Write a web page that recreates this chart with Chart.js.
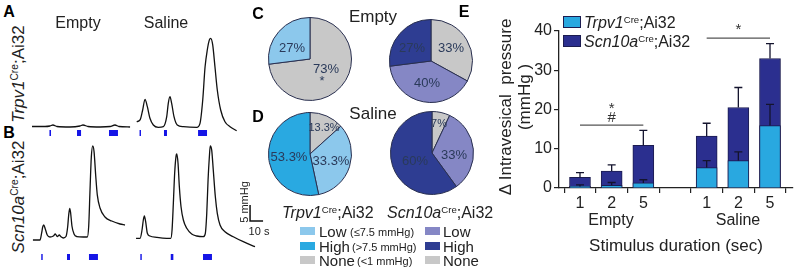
<!DOCTYPE html>
<html>
<head>
<meta charset="utf-8">
<script src="https://cdn.jsdelivr.net/npm/chart.js@4.4.1/dist/chart.umd.min.js"></script>
<style>
  body { margin: 0; background: #fff; }
  #fig { position: relative; width: 797px; height: 272px; overflow: hidden;
         font-family: 'Liberation Sans', Arial, sans-serif; color: #222; }
  canvas { position: absolute; }
  .t { position: absolute; white-space: nowrap; transform: translate(-50%, -50%); line-height: 1; }
  .l { position: absolute; white-space: nowrap; transform: translateY(-50%); line-height: 1; }
  .rot { transform: translate(-50%, -50%) rotate(-90deg); }
  .letter { font-weight: bold; font-size: 16px; color: #000; }
  sup { font-size: 0.6em; vertical-align: 0; position: relative; top: -0.55em; }
  .pct { font-size: 13px; color: #2a3a5a; }
  .sw { position: absolute; width: 15px; height: 8px; transform: translateY(-50%); }
  .small { font-size: 11px; }
</style>
</head>
<body>
<div id="fig">
  <canvas id="rowA" width="240" height="110" style="left:28px;top:30px"></canvas>
  <canvas id="rowB" width="240" height="122" style="left:28px;top:140px"></canvas>
  <canvas id="pieC1" width="84" height="84" style="left:268px;top:17px"></canvas>
  <canvas id="pieC2" width="84" height="84" style="left:389px;top:19px"></canvas>
  <canvas id="pieD1" width="84" height="84" style="left:268px;top:112px"></canvas>
  <canvas id="pieD2" width="84" height="84" style="left:390px;top:111px"></canvas>
  <canvas id="barE" width="337" height="272" style="left:460px;top:0px"></canvas>

  <!-- panel A / B text -->
  <div class="t letter" style="left:9px;top:12px">A</div>
  <div class="t letter" style="left:9px;top:133px">B</div>
  <div class="t" style="left:78px;top:23px;font-size:16px">Empty</div>
  <div class="t" style="left:166px;top:23px;font-size:16px">Saline</div>
  <div class="t rot" style="left:18px;top:74px;font-size:17px"><i>Trpv1</i><sup>Cre</sup>;Ai32</div>
  <div class="t rot" style="left:18px;top:197px;font-size:17px"><i>Scn10a</i><sup>Cre</sup>;Ai32</div>
  <div class="t rot small" style="left:244px;top:202px">5 mmHg</div>
  <div class="t small" style="left:259px;top:231px">10 s</div>

  <!-- panel C / D text -->
  <div class="t letter" style="left:258px;top:14px">C</div>
  <div class="t letter" style="left:258px;top:117px">D</div>
  <div class="t" style="left:373px;top:16px;font-size:17px">Empty</div>
  <div class="t" style="left:373px;top:113px;font-size:17px">Saline</div>
  <div class="t pct" style="left:292px;top:47px">27%</div>
  <div class="t pct" style="left:326px;top:68px">73%</div>
  <div class="t pct" style="left:322px;top:80px">*</div>
  <div class="t pct" style="left:412px;top:47px">27%</div>
  <div class="t pct" style="left:451px;top:47px">33%</div>
  <div class="t pct" style="left:427px;top:82px">40%</div>
  <div class="t pct" style="left:324px;top:127px;font-size:11px">13.3%</div>
  <div class="t pct" style="left:289px;top:156px">53.3%</div>
  <div class="t pct" style="left:331px;top:160px">33.3%</div>
  <div class="t pct" style="left:439px;top:123px;font-size:11px">7%</div>
  <div class="t pct" style="left:454px;top:154px">33%</div>
  <div class="t pct" style="left:415px;top:160px">60%</div>

  <div class="l" style="left:282px;top:213px;font-size:16px"><i>Trpv1</i><sup>Cre</sup>;Ai32</div>
  <div class="l" style="left:387px;top:213px;font-size:16px"><i>Scn10a</i><sup>Cre</sup>;Ai32</div>
  <div class="sw" style="left:300px;top:231px;background:#8cc8ec"></div>
  <div class="sw" style="left:300px;top:246px;background:#29a9e1"></div>
  <div class="sw" style="left:300px;top:260px;background:#c8c8c8"></div>
  <div class="l" style="left:319px;top:231px;font-size:15px">Low</div>
  <div class="l" style="left:319px;top:246px;font-size:15px">High</div>
  <div class="l" style="left:319px;top:260px;font-size:15px">None</div>
  <div class="l small" style="left:350px;top:232px">(≤7.5 mmHg)</div>
  <div class="l small" style="left:352px;top:247px">(&gt;7.5 mmHg)</div>
  <div class="l small" style="left:357px;top:261px">(&lt;1 mmHg)</div>
  <div class="sw" style="left:425px;top:231px;background:#8587c5"></div>
  <div class="sw" style="left:425px;top:246px;background:#2e3d92"></div>
  <div class="sw" style="left:425px;top:260px;background:#c8c8c8"></div>
  <div class="l" style="left:443px;top:231px;font-size:15px">Low</div>
  <div class="l" style="left:443px;top:246px;font-size:15px">High</div>
  <div class="l" style="left:443px;top:260px;font-size:15px">None</div>

  <!-- panel E text -->
  <div class="t letter" style="left:464px;top:12px">E</div>
  <div class="sw" style="left:563px;top:22px;width:16px;height:10px;background:#29a8e0;border:1px solid #1c1c50"></div>
  <div class="sw" style="left:563px;top:41px;width:16px;height:10px;background:#2b2f8f;border:1px solid #1c1c50"></div>
  <div class="l" style="left:584px;top:23px;font-size:16px"><i>Trpv1</i><sup>Cre</sup>;Ai32</div>
  <div class="l" style="left:584px;top:42px;font-size:16px"><i>Scn10a</i><sup>Cre</sup>;Ai32</div>
  <div class="t rot" style="left:505px;top:107px;font-size:17px">Δ Intravesical&nbsp;&nbsp;pressure</div>
  <div class="t rot" style="left:524px;top:97px;font-size:17px">(mmHg )</div>
  <div class="t" style="left:611px;top:220px;font-size:16px">Empty</div>
  <div class="t" style="left:738px;top:220px;font-size:16px">Saline</div>
  <div class="t" style="left:676px;top:245px;font-size:17px">Stimulus duration (sec)</div>
</div>

<script>
// traces: time (s), pressure change (mmHg)
const traceEmptyTrpv1 = [[3.1,-0.16],[13.1,-0.16],[16.9,0],[19.2,0.31],[22.3,-0.16],[32.3,-0.31],[40,0],[42.3,0.31],
  [46.2,-0.16],[55.4,-0.31],[63.1,-0.16],[66.9,0.31],[70,-0.16],[78.5,-0.31]];
const traceSalineTrpv1 = [[83.6,1.34],[86.2,1.88],[88.2,5.0],[90.0,8.34],[91.8,6.03],[93.8,2.41],[96.4,0.31],[100.2,-0.41],
  [104.1,-0.22],[106.7,2.91],[107.9,7.09],[109.2,9.16],[110.5,7.09],[112.3,2.91],[114.8,0.31],[119.5,-0.22],[129.8,-0.41],
  [132.3,0.84],[134.4,8.13],[136.2,18.5],[137.9,23.75],[139.5,26.9],[140.5,27.4],[142.1,25.3],[143.8,18.5],[145.6,11.25],
  [148.2,5.0],[151.5,1.34],[155.4,-0.22],[160.5,-1.47]];
const traceEmptyScn10a = [[3.8,0],[9.2,0],[10.5,2.19],[11.3,4.06],[12.1,4.69],[13.3,3.44],[14.8,1.56],[16.9,0.94],[19.5,1.25],
  [21.0,1.88],[22.5,1.09],[24.1,1.56],[25.2,1.09],[27.2,0.63],[29.2,1.09],[30.5,4.06],[31.3,7.81],[32.1,9.91],[32.8,8.44],
  [33.8,4.38],[35.4,1.88],[37.5,1.09],[42.5,0.94],[45.6,0.94],[46.7,4.38],[47.7,15.6],[48.7,25.9],[49.8,29.4],[50.8,27.6],
  [52.1,20.0],[53.3,14.1],[55.4,10.0],[59.2,7.19],[64.4,5.94],[70.8,5.0],[74.6,4.69]];
const traceSalineScn10a = [[83.1,0.53],[86.2,0.53],[87.7,3.13],[88.7,6.25],[89.5,7.5],[90.5,5.72],[91.8,2.09],[93.8,1.25],
  [99.0,0.84],[106.7,0.53],[109.8,0.53],[110.8,3.13],[111.8,11.5],[112.8,20.8],[113.8,26.0],[114.4,26.9],[115.4,24.0],
  [116.4,16.7],[117.7,10.4],[119.5,6.25],[122.1,3.66],[125.9,1.88],[129.8,1.25],[134.8,1.03],[136.4,2.09],[137.5,8.34],
  [138.5,18.75],[139.5,26.0],[140.2,29.4],[141.3,28.1],[142.5,21.9],[144.1,13.5],[145.6,8.34],[147.7,4.69],[151.5,2.59],
  [157.9,1.03],[165.6,-0.53],[174.6,-2.09]];
// light stimulation windows (start, end in s)
const stimRowA = [[16.5,17.7],[37.7,40.8],[62.3,69.2],[85.8,86.9],[104.6,106.9],[130.8,137.7]];
const stimRowB = [[10.2,11.3],[30.0,32.3],[46.9,53.8],[86.4,87.5],[109.8,111.8],[134.6,141.5]];
const scaleBarTime = 10, scaleBarPressure = 5;

// pies
const pieLabels = ['None', 'Low', 'High'];
const trpv1Empty = [73, 27, 0];
const scn10aEmpty = [33, 40, 27];
const trpv1Saline = [13.3, 33.3, 53.3];
const scn10aSaline = [7, 33, 60];

// bars
const durations = ['1', '2', '5', '', '1', '2', '5'];
const trpv1Mean = [0.4, 0.7, 1.3, null, 5.2, 7.0, 15.9];
const trpv1Sem = [0.4, 0.7, 0.8, null, 1.8, 2.2, 5.4];
const scn10aMean = [2.7, 4.3, 10.9, null, 13.2, 20.5, 33.0];
const scn10aSem = [1.2, 1.6, 3.8, null, 3.3, 5.1, 3.8];
const brackets = [{ from: 0, to: 2, level: 16, marks: ['#', '*'] }, { from: 4, to: 6, level: 38.2, marks: ['*'] }];

Chart.defaults.font.family = "'Liberation Sans', Arial, sans-serif";
Chart.defaults.animation = false;
Chart.defaults.responsive = false;
Chart.defaults.plugins.legend.display = false;
Chart.defaults.plugins.tooltip.enabled = false;

function toXY(arr) { return arr.map(p => ({ x: p[0], y: p[1] })); }
function stimPoints(list, level) {
  const pts = [];
  list.forEach(s => { pts.push({ x: s[0], y: level }, { x: s[1], y: level }, { x: s[1], y: null }); });
  return pts;
}
function traceSet(arr) {
  return { data: toXY(arr), borderColor: '#111', borderWidth: 1.3, pointRadius: 0, cubicInterpolationMode: 'monotone' };
}
function stimSet(list, level) {
  return { data: stimPoints(list, level), borderColor: '#1515e6', borderWidth: 6, borderCapStyle: 'butt',
    pointRadius: 0, spanGaps: false };
}

const scaleBar = {
  id: 'scaleBar',
  afterDraw(chart) {
    const x = chart.scales.x, y = chart.scales.y, ctx = chart.ctx;
    const t0 = 170.8, p0 = 5.94;
    ctx.save();
    ctx.strokeStyle = '#111';
    ctx.lineWidth = 1.5;
    ctx.beginPath();
    ctx.moveTo(x.getPixelForValue(t0), y.getPixelForValue(p0 + scaleBarPressure));
    ctx.lineTo(x.getPixelForValue(t0), y.getPixelForValue(p0));
    ctx.lineTo(x.getPixelForValue(t0 + scaleBarTime), y.getPixelForValue(p0));
    ctx.stroke();
    ctx.restore();
  }
};

function traceChart(id, sets, yMin, yMax, plugins) {
  return new Chart(document.getElementById(id), {
    type: 'line',
    data: { datasets: sets },
    options: {
      layout: { padding: 0 },
      scales: {
        x: { type: 'linear', display: false, min: 0, max: 184.6 },
        y: { display: false, min: yMin, max: yMax }
      }
    },
    plugins: plugins || []
  });
}

traceChart('rowA', [traceSet(traceEmptyTrpv1), traceSet(traceSalineTrpv1), stimSet(stimRowA, -2.19)], -4.375, 30);
traceChart('rowB', [traceSet(traceEmptyScn10a), traceSet(traceSalineScn10a), stimSet(stimRowB, -5.31)], -6.875, 31.25, [scaleBar]);

function pieChart(id, values, colors) {
  return new Chart(document.getElementById(id), {
    type: 'pie',
    data: { labels: pieLabels, datasets: [{ data: values, backgroundColor: colors, borderColor: '#2a3050', borderWidth: 1 }] },
    options: { layout: { padding: 0 } }
  });
}
const trpv1Colors = ['#c8c8c8', '#8cc8ec', '#29a9e1'];
const scn10aColors = ['#c8c8c8', '#8587c5', '#2e3d92'];
pieChart('pieC1', trpv1Empty, trpv1Colors);
pieChart('pieC2', scn10aEmpty, scn10aColors);
pieChart('pieD1', trpv1Saline, trpv1Colors);
pieChart('pieD2', scn10aSaline, scn10aColors);

function barPoints(vals) { return vals.map((v, i) => ({ x: i, y: v })); }

const errorBars = {
  id: 'errorBars',
  afterDatasetsDraw(chart) {
    const x = chart.scales.x, y = chart.scales.y, ctx = chart.ctx;
    const sets = [[trpv1Mean, trpv1Sem], [scn10aMean, scn10aSem]];
    ctx.save();
    ctx.strokeStyle = '#14142e';
    ctx.lineWidth = 1.3;
    sets.forEach(([m, e]) => {
      m.forEach((v, i) => {
        if (v == null) return;
        const px = x.getPixelForValue(i);
        const top = y.getPixelForValue(v + e[i]);
        ctx.beginPath();
        ctx.moveTo(px, y.getPixelForValue(v));
        ctx.lineTo(px, top);
        ctx.moveTo(px - 4, top);
        ctx.lineTo(px + 4, top);
        ctx.stroke();
      });
    });
    ctx.strokeStyle = '#555';
    ctx.fillStyle = '#333';
    ctx.font = "15px 'Liberation Sans', Arial, sans-serif";
    ctx.textAlign = 'center';
    ctx.textBaseline = 'middle';
    brackets.forEach(b => {
      const py = y.getPixelForValue(b.level);
      const x1 = x.getPixelForValue(b.from), x2 = x.getPixelForValue(b.to);
      ctx.beginPath();
      ctx.moveTo(x1, py);
      ctx.lineTo(x2, py);
      ctx.stroke();
      b.marks.forEach((mk, k) => {
        ctx.fillText(mk, (x1 + x2) / 2, py - 5 - (mk === '*' ? 3 : 2) - k * 8);
      });
    });
    ctx.restore();
  }
};

new Chart(document.getElementById('barE'), {
  type: 'bar',
  data: {
    datasets: [
      { label: 'Trpv1Cre;Ai32', data: barPoints(trpv1Mean), backgroundColor: '#29a8e0', borderColor: '#1c1c50',
        borderWidth: 1, barThickness: 21, grouped: false },
      { label: 'Scn10aCre;Ai32', data: barPoints(scn10aMean), backgroundColor: '#2b2f8f', borderColor: '#1c1c50',
        borderWidth: 1, barThickness: 21, grouped: false }
    ]
  },
  options: {
    layout: { padding: { left: 0, top: 31, right: 4, bottom: 0 } },
    scales: {
      x: {
        type: 'linear', min: -0.663, max: 6.726, offset: false,
        afterBuildTicks: axis => { axis.ticks = durations.map((d, i) => ({ value: i })); },
        afterFit: s => { s.height = 84; },
        ticks: { autoSkip: false, maxRotation: 0, padding: 1, color: '#222', font: { size: 16 },
          callback: v => durations[v] },
        grid: { drawOnChartArea: false, tickLength: 5, color: '#222', lineWidth: 1.2 },
        border: { color: '#222', width: 1.3 }
      },
      y: {
        min: 0, max: 40,
        afterFit: s => { s.width = 99; },
        ticks: { stepSize: 10, padding: 2, color: '#222', font: { size: 16 } },
        grid: { drawOnChartArea: false, tickLength: 5, color: '#222', lineWidth: 1.2 },
        border: { color: '#222', width: 1.3 }
      }
    }
  },
  plugins: [errorBars]
});
</script>
</body>
</html>
